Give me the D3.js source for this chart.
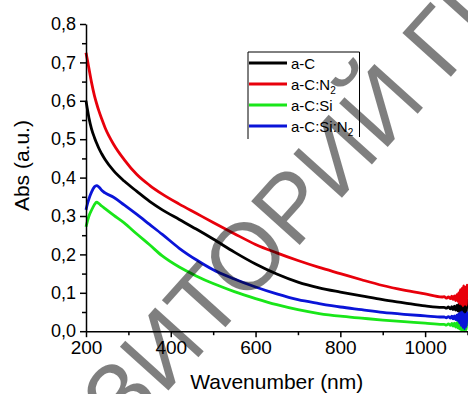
<!DOCTYPE html>
<html>
<head>
<meta charset="utf-8">
<script src="https://cdn.jsdelivr.net/npm/d3@7"></script>
<style>
  body { margin: 0; background: #fff; }
  svg { display: block; font-family: "Liberation Sans", Arial, sans-serif; }
</style>
</head>
<body>
<svg class="abs-chart" width="468" height="394"></svg>
<script>
// wavelength grid (nm)
const wavelength = [200, 203, 207, 213, 220, 225, 230, 237, 245, 265, 290, 320, 350, 380, 420, 460, 500, 550, 600, 650,
    700, 750, 800, 850, 900, 950, 1000, 1040,
    1045, 1050, 1055, 1060, 1063, 1066, 1069, 1072, 1075, 1077, 1079, 1081, 1083, 1085, 1087, 1089, 1091, 1093, 1095, 1097, 1099, 1100];

const absAC = [0.600, 0.580, 0.555, 0.527, 0.504, 0.490, 0.477, 0.462, 0.447, 0.418, 0.391, 0.364, 0.338, 0.316, 0.291, 0.266, 0.240, 0.206, 0.175, 0.149,
    0.128, 0.113, 0.102, 0.092, 0.082, 0.074, 0.066, 0.062,
    0.062, 0.060, 0.063, 0.058, 0.064, 0.056, 0.065, 0.055, 0.067, 0.053, 0.070, 0.050, 0.072, 0.047, 0.075, 0.045, 0.080, 0.044, 0.078, 0.046, 0.082, 0.060];

const absACN2 = [0.725, 0.708, 0.684, 0.648, 0.613, 0.593, 0.575, 0.553, 0.530, 0.487, 0.447, 0.408, 0.380, 0.357, 0.331, 0.307, 0.283, 0.254, 0.226, 0.204,
    0.184, 0.166, 0.150, 0.134, 0.119, 0.107, 0.097, 0.089,
    0.090, 0.086, 0.089, 0.085, 0.091, 0.082, 0.092, 0.080, 0.095, 0.078, 0.100, 0.072, 0.108, 0.070, 0.112, 0.066, 0.118, 0.070, 0.115, 0.068, 0.120, 0.095];

const absACSi = [0.272, 0.285, 0.300, 0.315, 0.330, 0.336, 0.333, 0.326, 0.319, 0.302, 0.282, 0.253, 0.225, 0.196, 0.167, 0.144, 0.124, 0.103, 0.085, 0.069,
    0.056, 0.046, 0.039, 0.034, 0.029, 0.025, 0.021, 0.018,
    0.018, 0.016, 0.019, 0.015, 0.020, 0.013, 0.021, 0.011, 0.022, 0.009, 0.024, 0.006, 0.026, 0.003, 0.028, 0.002, 0.030, 0.001, 0.027, 0.004, 0.032, 0.012];

const absACSiN2 = [0.316, 0.330, 0.345, 0.362, 0.376, 0.379, 0.376, 0.367, 0.360, 0.349, 0.329, 0.304, 0.278, 0.252, 0.216, 0.186, 0.160, 0.136, 0.115, 0.097,
    0.082, 0.072, 0.063, 0.056, 0.049, 0.044, 0.040, 0.037,
    0.037, 0.035, 0.038, 0.034, 0.039, 0.032, 0.040, 0.030, 0.042, 0.028, 0.045, 0.022, 0.048, 0.015, 0.050, 0.010, 0.046, 0.006, 0.044, 0.012, 0.048, 0.030];

const seriesNames = ['a-C', 'a-C:N2', 'a-C:Si', 'a-C:Si:N2'];
const seriesValues = [absAC, absACN2, absACSi, absACSiN2];
const seriesColors = ['#000000', '#e8000b', '#19e619', '#0a14d8'];

const xTicks = [200, 400, 600, 800, 1000];
const xMinorTicks = [300, 500, 700, 900, 1100];
const yTicks = [0, 0.1, 0.2, 0.3, 0.4, 0.5, 0.6, 0.7, 0.8];
const yMinorTicks = [0.05, 0.15, 0.25, 0.35, 0.45, 0.55, 0.65, 0.75];

const svg = d3.select('svg.abs-chart');

const margin = { top: 24, left: 86 };
const innerWidth = 381.5;
const innerHeight = 307.2;

const xScale = d3.scaleLinear()
    .domain([200, 1100])
    .range([0, innerWidth]);

const yScale = d3.scaleLinear()
    .domain([0, 0.8])
    .range([innerHeight, 0]);

const g = svg.append('g')
    .attr('transform', `translate(${margin.left}, ${margin.top})`);

const lineGen = d3.line()
    .x((d, i) => xScale(wavelength[i]))
    .y(d => yScale(d))
    .curve(d3.curveMonotoneX);

g.selectAll('path.curve').data(seriesValues)
    .enter().append('path')
    .attr('class', 'curve')
    .attr('d', lineGen)
    .attr('fill', 'none')
    .attr('stroke', (d, i) => seriesColors[i])
    .attr('stroke-width', 2.8)
    .attr('stroke-linejoin', 'round');

// axes
const comma = d => d3.format('.1f')(d).replace('.', ',');

const yAxis = g.append('g')
    .call(d3.axisLeft(yScale).tickValues(yTicks).tickSize(6).tickSizeOuter(0).tickFormat(comma));
yAxis.selectAll('text')
    .attr('font-size', 18)
    .attr('x', -10)
    .attr('fill', '#000');

g.append('g')
    .call(d3.axisLeft(yScale).tickValues(yMinorTicks).tickSize(4).tickSizeOuter(0).tickFormat(''))
    .select('.domain').remove();

const xAxis = g.append('g')
    .attr('transform', `translate(0, ${innerHeight})`)
    .call(d3.axisBottom(xScale).tickValues(xTicks).tickSize(6).tickSizeOuter(0).tickFormat(d3.format('d')));
xAxis.selectAll('text')
    .attr('font-size', 19)
    .attr('y', 9)
    .attr('fill', '#000');

g.append('g')
    .attr('transform', `translate(0, ${innerHeight})`)
    .call(d3.axisBottom(xScale).tickValues(xMinorTicks).tickSize(4).tickSizeOuter(0).tickFormat(''))
    .select('.domain').remove();

g.selectAll('.domain, .tick line')
    .attr('stroke', '#000')
    .attr('stroke-width', 1.5);

svg.append('text')
    .attr('x', margin.left + innerWidth / 2)
    .attr('y', 389)
    .attr('text-anchor', 'middle')
    .attr('font-size', 21)
    .text('Wavenumber (nm)');

svg.append('text')
    .attr('transform', `translate(28.5, ${margin.top + innerHeight / 2 - 12}) rotate(-90)`)
    .attr('text-anchor', 'middle')
    .attr('font-size', 21)
    .text('Abs (a.u.)');

// legend (open at the bottom, like the original)
const legend = svg.append('g');
legend.append('path')
    .attr('d', 'M248,139V52H359.5V137')
    .attr('fill', 'none')
    .attr('stroke', '#000')
    .attr('stroke-width', 1);

const rowY = [63, 84, 105, 126];
const rows = legend.selectAll('.legends').data(seriesNames)
    .enter().append('g')
    .attr('class', 'legends')
    .attr('transform', (d, i) => `translate(0, ${rowY[i]})`);

rows.append('line')
    .attr('x1', 249).attr('x2', 287)
    .attr('stroke', (d, i) => seriesColors[i])
    .attr('stroke-width', 3);

rows.append('text')
    .attr('x', 291)
    .attr('y', 5.5)
    .attr('font-size', 15)
    .each(function (d) {
        const t = d3.select(this);
        if (d.endsWith('N2')) {
            t.append('tspan').text(d.slice(0, -1));
            t.append('tspan').attr('font-size', 10).attr('dy', 4).text('2');
        } else {
            t.text(d);
        }
    });

// watermark
svg.append('text')
    .attr('transform', 'translate(250, 300) rotate(-48)')
    .attr('text-anchor', 'middle')
    .attr('font-size', 95)
    .attr('fill', '#000')
    .attr('fill-opacity', 0.5)
    .text('РЕПОЗИТОРИЙ ГГУ');
</script>
</body>
</html>
